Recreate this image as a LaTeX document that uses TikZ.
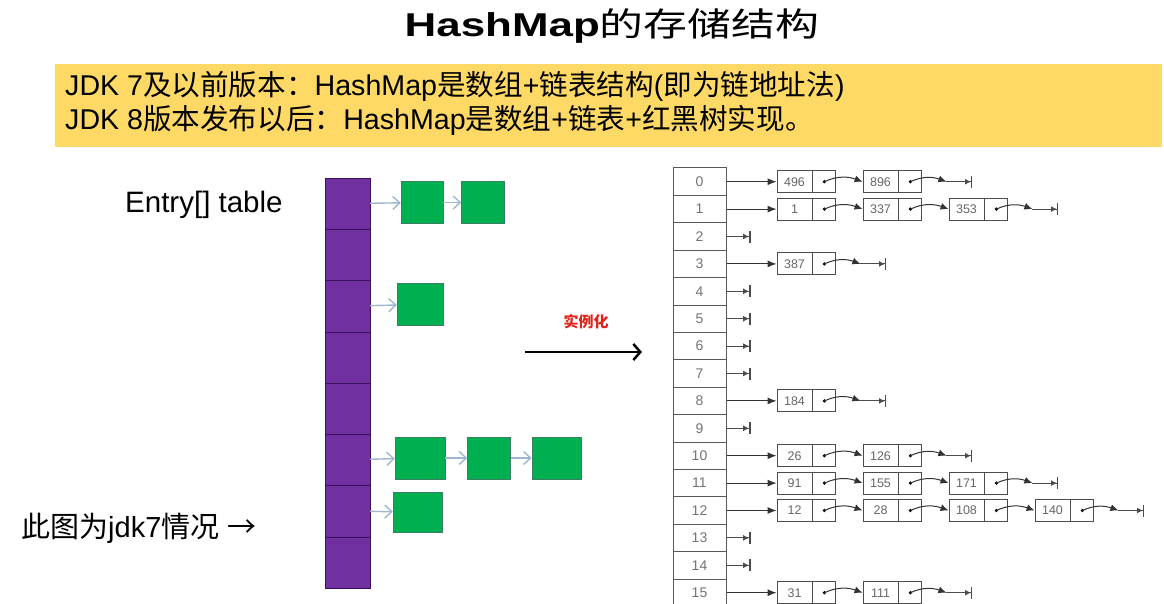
\documentclass[tikz,border=0pt]{standalone}
\usepackage{fontspec}
\setmainfont{Liberation Sans}
\newfontfamily\cjk{Noto Sans CJK SC}
\usepackage{tikz}
\usetikzlibrary{positioning, arrows.meta}
\usepackage{xcolor}
\definecolor{noteyellow}{HTML}{FFD966}
\definecolor{binpurple}{HTML}{7030A0}
\definecolor{bindark}{HTML}{3C1060}
\definecolor{nodegreen}{HTML}{00B050}
\definecolor{nodeedge}{HTML}{3A7F63}
\definecolor{linkblue}{HTML}{9FB7CC}
\definecolor{instred}{HTML}{E0241B}
\newcommand{\fsz}[1]{\fontsize{#1}{#1}\selectfont}
\newcommand{\zh}[1]{{\cjk #1}}

\begin{document}
\begin{tikzpicture}[x=1pt, y=-1pt,
  bin/.style={draw=bindark, fill=binpurple, minimum width=45pt, minimum height=51.25pt, inner sep=0pt},
  greenbox/.style={draw=nodeedge, fill=nodegreen, minimum height=42pt, inner sep=0pt},
  link/.style={draw=linkblue, line width=1.4pt, -{Straight Barb[length=7pt,width=13pt]}},
  cell/.style={draw=black!65, line width=1pt, minimum width=53pt, minimum height=27.4pt, inner sep=0pt, text=black!55, font=\fsz{14}},
  keybox/.style={draw=black!70, line width=0.9pt, minimum width=35pt, minimum height=22pt, inner sep=0pt, text=black!60, font=\fsz{12.5}},
  ptrbox/.style={draw=black!70, line width=0.9pt, minimum width=23pt, minimum height=22pt, inner sep=0pt},
  headlink/.style={draw=black!80, line width=1pt, -{Latex[length=9pt,width=7pt]}},
  nextlink/.style={draw=black!80, line width=1pt, -{Latex[length=8pt,width=7pt]}},
  nullend/.style={draw=black!70, line width=1.1pt, -{Latex[length=6pt,width=6pt]Bar[width=12pt,line width=1.4pt]}}]
\useasboundingbox (0,0) rectangle (1164,604);
\node[anchor=base] (title) at (612,37) {\scalebox{1.33}[1]{\fsz{33}\textbf{HashMap}\zh{的存储结构}}};
\node[fill=noteyellow, anchor=north west, minimum width=1107pt, minimum height=83pt, inner sep=0pt] (note) at (55,64) {};
\node[anchor=base west, inner sep=0pt, font=\fsz{28.6}] (jdk7) at (65,96) {JDK 7\zh{及以前版本：}HashMap\zh{是数组}+\zh{链表结构}(\zh{即为链地址法})};
\node[anchor=base west, inner sep=0pt, font=\fsz{28.6}] (jdk8) at (65,130) {JDK 8\zh{版本发布以后：}HashMap\zh{是数组}+\zh{链表}+\zh{红黑树实现。}};
\node[anchor=base west, inner sep=0pt, font=\fsz{29.5}] (entry) at (125,212) {Entry[] table};
\node[anchor=base west, inner sep=0pt, font=\fsz{29}] (jdknote) at (21,537) {\zh{此图为}jdk7\zh{情况} \zh{→}};

\foreach \i in {0,...,7}
  \node[bin] (b\i) at (347.5,203.6+51.25*\i) {};
\node[greenbox, minimum width=42pt] (g0a) at (422,202.5) {};
\node[greenbox, minimum width=43pt, right=18pt of g0a] (g0b) {};
\node[greenbox, minimum width=46pt] (g2a) at (420,304.5) {};
\node[greenbox, minimum width=50pt] (g5a) at (420,458) {};
\node[greenbox, minimum width=43pt, right=22pt of g5a] (g5b) {};
\node[greenbox, minimum width=49pt, right=21pt of g5b] (g5c) {};
\node[greenbox, minimum width=49pt, minimum height=40pt] (g6a) at (417.5,512) {};
\draw[link] (b0) -- (g0a);
\draw[link] (g0a) -- (g0b);
\draw[link] (b2) -- (g2a);
\draw[link] (b5) -- (g5a);
\draw[link] (g5a) -- (g5b);
\draw[link] (g5b) -- (g5c);
\draw[link] (b6) -- (g6a);

\node[text=instred, font=\fsz{15}\cjk\bfseries] (inst) at (586,322) {实例化};
\coordinate (instA) at (525,352);
\coordinate (instB) at (642,352);
\draw[line width=2.5pt, -{Straight Barb[length=7pt,width=16pt]}] (instA) -- (instB);

\foreach \i in {0,...,15}
  \node[cell] (t\i) at (699.5,181.7+27.4*\i) {\i};
\foreach \i/\keys/\n in {0/{496,896}/2, 1/{1,337,353}/3, 3/{387}/1, 8/{184}/1, 10/{26,126}/2, 11/{91,155,171}/3, 12/{12,28,108,140}/4, 15/{31,111}/2} {
  \foreach \k [count=\j, remember=\j as \prev (initially 0)] in \keys {
    \node[keybox] (k\i-\j) at (794.5+86*\j-86,181.7+27.4*\i) {\k};
    \node[ptrbox, right=0pt of k\i-\j] (p\i-\j) {};
    \fill (p\i-\j.center) circle (1.8pt);
    \ifnum\prev>0 \draw[nextlink] (p\i-\prev.center) to[out=25,in=160] (k\i-\j.west); \fi
  }
  \draw[headlink] (t\i) -- (k\i-1);
  \coordinate (e\i) at ([xshift=36pt]p\i-\n.center);
  \coordinate (f\i) at ([xshift=62pt]p\i-\n.center);
  \draw[nextlink] (p\i-\n.center) to[out=25,in=160] (e\i);
  \draw[nullend] (e\i) -- (f\i);
}
\foreach \i in {2,4,5,6,7,9,13,14} {
  \coordinate (n\i) at ([xshift=24pt]t\i.east);
  \draw[nullend] (t\i) -- (n\i);
}
\end{tikzpicture}
\end{document}
